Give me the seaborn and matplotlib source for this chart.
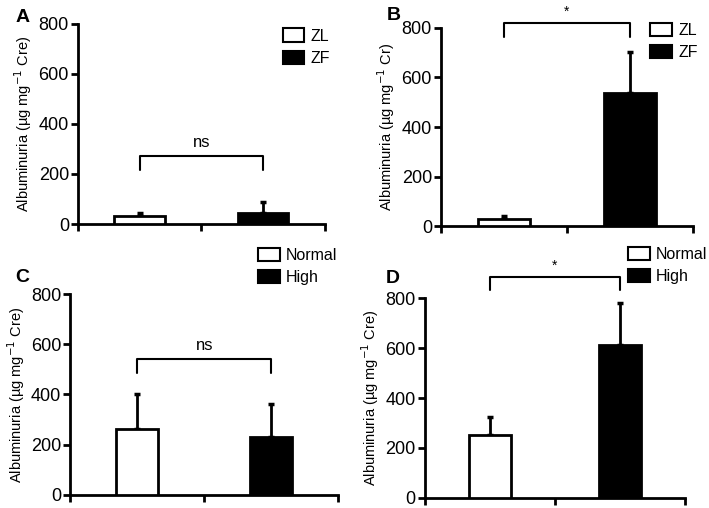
import matplotlib
matplotlib.use("Agg")
import matplotlib.pyplot as plt
import seaborn as sns
import pandas as pd

sns.set_style("white")
plt.rcParams['font.family'] = ['Liberation Sans', 'DejaVu Sans']
plt.rcParams['text.color'] = 'black'
plt.rcParams['axes.labelcolor'] = 'black'
plt.rcParams['xtick.color'] = 'black'
plt.rcParams['ytick.color'] = 'black'

# values (mean, upper error bar)
groups_ab = ["ZL", "ZF"]
groups_cd = ["Normal", "High"]

mean_a = [32, 45]
err_a = [14, 43]
mean_b = [30, 538]
err_b = [12, 164]
mean_c = [262, 232]
err_c = [140, 128]
mean_d = [252, 612]
err_d = [70, 168]

sig_labels = ["ns", "*", "ns", "*"]
ylabels = [
    "Albuminuria (µg mg$^{-1}$ Cre)",
    "Albuminuria (µg mg$^{-1}$ Cr)",
    "Albuminuria (µg mg$^{-1}$ Cre)",
    "Albuminuria (µg mg$^{-1}$ Cre)",
]
letters = ["A", "B", "C", "D"]

# layout (figure fractions) and annotation heights
axes_rect = [
    [0.110, 0.559, 0.348, 0.394],
    [0.622, 0.555, 0.355, 0.390],
    [0.099, 0.026, 0.378, 0.395],
    [0.599, 0.020, 0.367, 0.393],
]
bar_widths = [0.41, 0.41, 0.31, 0.32]
bracket_y = [272, 819, 541, 884]
bracket_drop = [56, 54, 56, 52]
legend_pos = [(0.399, 0.944), (0.917, 0.955), (0.364, 0.512), (0.886, 0.514)]
letter_pos = [(0.022, 0.957), (0.545, 0.961), (0.022, 0.445), (0.544, 0.443)]

panels = [
    (groups_ab, mean_a, err_a),
    (groups_ab, mean_b, err_b),
    (groups_cd, mean_c, err_c),
    (groups_cd, mean_d, err_d),
]

fig = plt.figure(figsize=(7.09, 5.08), dpi=100)

for i, (groups, means, errs) in enumerate(panels):
    ax = fig.add_axes(axes_rect[i])
    df = pd.DataFrame({"group": groups, "value": means})
    sns.barplot(data=df, x="group", y="value", hue="group", order=groups,
                hue_order=groups, palette=["white", "black"],
                edgecolor="black", linewidth=2, width=bar_widths[i],
                legend=False, ax=ax, zorder=3)
    ax.errorbar(range(len(groups)), means, yerr=[[0] * len(errs), errs],
                fmt="none", ecolor="black", elinewidth=2, capsize=2.5,
                capthick=2.5, zorder=2)

    ax.set_xlim(-0.5, 1.5)
    ax.set_ylim(0, 800)
    ax.set_yticks([0, 200, 400, 600, 800])
    ax.set_xticks([-0.5, 0.5, 1.5])
    ax.set_xticklabels([])
    ax.set_xlabel("")
    ax.set_ylabel(ylabels[i], fontsize=10.5, labelpad=3)
    ax.tick_params(axis="y", direction="out", length=5, width=2,
                   labelsize=13, left=True, pad=1.5)
    ax.tick_params(axis="x", direction="out", length=5, width=2, bottom=True)
    sns.despine(ax=ax)
    for s in ["left", "bottom"]:
        ax.spines[s].set_linewidth(2)
        ax.spines[s].set_color("black")

    # significance bracket
    y0 = bracket_y[i]
    ax.plot([0, 0, 1, 1], [y0 - bracket_drop[i], y0, y0, y0 - bracket_drop[i]],
            color="black", lw=1.5, clip_on=False)
    if sig_labels[i] == "ns":
        ax.text(0.5, y0 + 25, "ns", ha="center", va="bottom", fontsize=12,
                clip_on=False)
    else:
        ax.text(0.5, y0 + 18, "*", ha="center", va="bottom", fontsize=10,
                clip_on=False)

    handles = [p for p in ax.patches][:2]
    leg = fig.legend(handles, groups, loc="upper left",
                     bbox_to_anchor=legend_pos[i], frameon=False, fontsize=11.5,
                     handlelength=1.35, handleheight=0.9, handletextpad=0.4,
                     labelspacing=0.45, borderpad=0, borderaxespad=0)
    for h in leg.legend_handles:
        h.set_linewidth(1.5)

    fig.text(letter_pos[i][0], letter_pos[i][1], letters[i], fontsize=14,
             fontweight="bold", va="baseline")

fig.savefig("out.png", dpi=100)
